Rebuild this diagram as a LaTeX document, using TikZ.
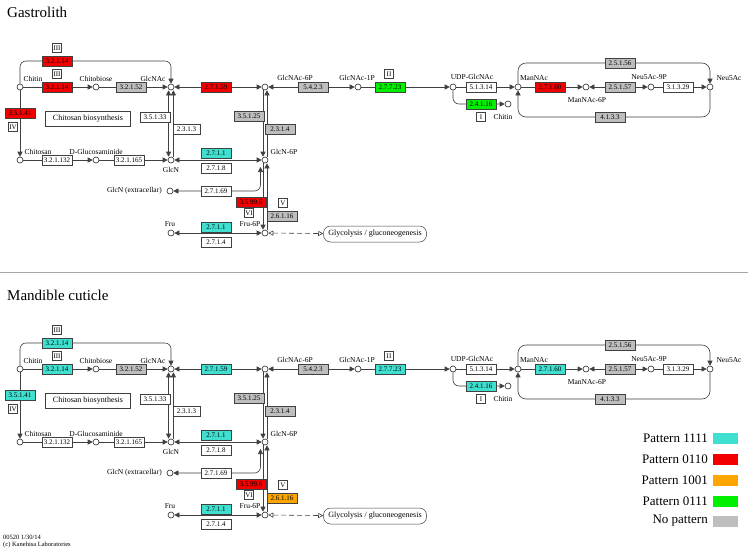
\documentclass[tikz,border=0pt]{standalone}
\usepackage{fontspec}
\setmainfont{Liberation Serif}
\usetikzlibrary{arrows.meta,calc}
\pgfdeclarelayer{bg}
\pgfdeclarelayer{paper}
\pgfsetlayers{paper,bg,main}
\definecolor{kred}{HTML}{F20000}
\definecolor{kcyan}{HTML}{40E0D0}
\definecolor{korange}{HTML}{FFA500}
\definecolor{kgreen}{HTML}{00F000}
\definecolor{kgray}{HTML}{BEBEBE}
\tikzset{
  cpd/.style={circle,draw=black!85,fill=white,minimum size=6pt,inner sep=0pt,line width=0.6pt},
  enz/.style={draw=black!75,line width=0.5pt,minimum width=30pt,minimum height=10pt,inner sep=0pt,font=\fontsize{7}{8}\selectfont},
  rom/.style={draw=black!75,fill=white,line width=0.5pt,minimum height=9pt,minimum width=9pt,inner sep=1pt,font=\fontsize{7}{8}\selectfont},
  lbl/.style={font=\fontsize{7.5}{8}\selectfont,inner sep=0pt},
  rx/.style={line width=0.6pt,draw=black!75},
  arr/.style={rx,-{Triangle[length=5pt,width=5pt]}},
  darr/.style={rx,{Triangle[length=5pt,width=5pt]}-{Triangle[length=5pt,width=5pt]}},
  oarr/.style={rx,dash pattern=on 5pt off 3pt,{Triangle[open,length=5pt,width=5pt]}-{Triangle[open,length=5pt,width=5pt]}},
  infobox/.style={draw=black!75,fill=white,line width=0.5pt,inner sep=0pt,font=\fontsize{8}{9}\selectfont},
  legtext/.style={anchor=east,inner sep=0pt,font=\fontsize{13}{14}\selectfont},
  legsw/.style={minimum width=25pt,minimum height=11pt,inner sep=0pt}
}
% #1 prefix, #2 yshift, #3 color A, #4 color 2.6.1.16, #5 color 2.7.7.23/2.4.1.16, #6 color 2.7.1.60
\newcommand\kpanel[6]{%
\begin{scope}[yshift=#2]
% compounds
\node[cpd] (#1chitin) at (20,87) {};
\node[cpd] (#1chitobiose) at (96,87) {};
\node[cpd] (#1glcnac) at (171,87) {};
\node[cpd] (#1chitosan) at (20,160) {};
\node[cpd] (#1dglc) at (96,160) {};
\node[cpd] (#1glcn) at (171,160) {};
\node[cpd] (#1glcnex) at (170,191) {};
\node[cpd] (#1fru) at (171,233) {};
\node[cpd] (#1glcnac6p) at (265,87) {};
\node[cpd] (#1glcn6p) at (265,160) {};
\node[cpd] (#1fru6p) at (265,233) {};
\node[cpd] (#1glcnac1p) at (358,87) {};
\node[cpd] (#1udp) at (453,87) {};
\node[cpd] (#1chitinb) at (508,104) {};
\node[cpd] (#1mannac) at (518,87) {};
\node[cpd] (#1mannac6p) at (586,87) {};
\node[cpd] (#1neu9p) at (651,87) {};
\node[cpd] (#1neu5ac) at (710,87) {};
% compound labels
\node[lbl] (#1l1) at (33,79) {Chitin};
\node[lbl] (#1l2) at (96,79) {Chitobiose};
\node[lbl] (#1l3) at (153,79) {GlcNAc};
\node[lbl] (#1l4) at (38,152) {Chitosan};
\node[lbl] (#1l5) at (96,152) {D-Glucosaminide};
\node[lbl] (#1l6) at (171,170) {GlcN};
\node[lbl,anchor=east] (#1l7) at (162,191) {GlcN (extracellar)};
\node[lbl] (#1l8) at (170,224) {Fru};
\node[lbl] (#1l9) at (295,78) {GlcNAc-6P};
\node[lbl] (#1l10) at (357,78) {GlcNAc-1P};
\node[lbl] (#1l11) at (284,152) {GlcN-6P};
\node[lbl] (#1l12) at (250,224) {Fru-6P};
\node[lbl] (#1l13) at (472,77) {UDP-GlcNAc};
\node[lbl] (#1l14) at (503,117) {Chitin};
\node[lbl] (#1l15) at (534,78) {ManNAc};
\node[lbl] (#1l16) at (587,100) {ManNAc-6P};
\node[lbl] (#1l17) at (649,77) {Neu5Ac-9P};
\node[lbl] (#1l18) at (729,78) {Neu5Ac};
% enzymes
\node[enz,fill=#3] (#1e1) at (57,61) {3.2.1.14};
\node[rom] (#1r1) at (57,48) {III};
\node[enz,fill=#3] (#1e2) at (57,87) {3.2.1.14};
\node[rom] (#1r2) at (57,74) {III};
\node[enz,fill=kgray] (#1e3) at (131,87) {3.2.1.52};
\node[enz,fill=#3] (#1e4) at (20,113) {3.5.1.41};
\node[rom] (#1r4) at (13,127) {IV};
\node[infobox,minimum width=85pt,minimum height=15pt] (#1cb) at (88,119) {Chitosan biosynthesis};
\node[enz,fill=white] (#1e5) at (155,117) {3.5.1.33};
\node[enz,fill=white,minimum width=27pt] (#1e6) at (186.5,129) {2.3.1.3};
\node[enz,fill=white] (#1e7) at (57,160) {3.2.1.132};
\node[enz,fill=white] (#1e8) at (129,160) {3.2.1.165};
\node[enz,fill=#3] (#1e9) at (216,87) {2.7.1.59};
\node[enz,fill=kcyan] (#1e10) at (216,153) {2.7.1.1};
\node[enz,fill=white] (#1e11) at (216,168) {2.7.1.8};
\node[enz,fill=white] (#1e12) at (216,191) {2.7.1.69};
\node[enz,fill=kred] (#1e13) at (251,202) {3.5.99.6};
\node[rom] (#1r13) at (249,213) {VI};
\node[enz,fill=#4] (#1e14) at (282,216) {2.6.1.16};
\node[rom] (#1r14) at (283,203) {V};
\node[enz,fill=kcyan] (#1e15) at (216,227) {2.7.1.1};
\node[enz,fill=white] (#1e16) at (216,242) {2.7.1.4};
\node[enz,fill=kgray] (#1e17) at (249,116) {3.5.1.25};
\node[enz,fill=kgray] (#1e18) at (280,129) {2.3.1.4};
\node[enz,fill=kgray] (#1e19) at (313,87) {5.4.2.3};
\node[enz,fill=#5] (#1e20) at (390,87) {2.7.7.23};
\node[rom] (#1r20) at (389,74) {II};
\node[enz,fill=white] (#1e21) at (481,87) {5.1.3.14};
\node[enz,fill=#5] (#1e22) at (481,104) {2.4.1.16};
\node[rom] (#1r22) at (481,117) {I};
\node[enz,fill=#6] (#1e23) at (550,87) {2.7.1.60};
\node[enz,fill=kgray] (#1e24) at (620,87) {2.5.1.57};
\node[enz,fill=white] (#1e25) at (678,87) {3.1.3.29};
\node[enz,fill=kgray] (#1e26) at (620,63) {2.5.1.56};
\node[enz,fill=kgray] (#1e27) at (610,117) {4.1.3.3};
\node[infobox,rounded corners=7pt,minimum width=103pt,minimum height=16pt] (#1glyco) at (375,234) {Glycolysis / gluconeogenesis};
% helper coordinates
\coordinate (#1c1) at ($(#1glcn6p)+(-4.5,7)$);
% connectors
\begin{pgfonlayer}{bg}
\draw[arr] (#1chitin) -- (#1chitobiose);
\draw[arr] (#1chitobiose) -- (#1glcnac);
\draw[arr,rounded corners=6pt] (#1chitin) -- (#1chitin |- #1e1) -- (#1glcnac |- #1e1) -- (#1glcnac);
\draw[arr] (#1chitin) -- (#1chitosan);
\draw[arr] (#1chitosan) -- (#1dglc);
\draw[arr] (#1dglc) -- (#1glcn);
\draw[darr] ([xshift=-2.4pt]#1glcnac.south) -- ([xshift=-2.4pt]#1glcn.north);
\draw[arr] ([xshift=2.4pt]#1glcn.north) -- ([xshift=2.4pt]#1glcnac.south);
\draw[darr] (#1glcnac) -- (#1glcnac6p);
\draw[darr] (#1glcnac6p) -- (#1glcnac1p);
\draw[arr] (#1glcnac1p) -- (#1udp);
\draw[arr] ([xshift=-2pt]#1glcnac6p.south) -- ([xshift=-2pt]#1glcn6p.north);
\draw[arr] ([xshift=2pt]#1glcn6p.north) -- ([xshift=2pt]#1glcnac6p.south);
\draw[darr] (#1glcn) -- (#1glcn6p);
\draw[darr,rounded corners=6pt] (#1glcnex) -- (#1c1 |- #1glcnex) -- (#1c1);
\draw[arr] ([xshift=-2pt]#1glcn6p.south) -- ([xshift=-2pt]#1fru6p.north);
\draw[arr] ([xshift=2pt]#1fru6p.north) -- ([xshift=2pt]#1glcn6p.south);
\draw[darr] (#1fru) -- (#1fru6p);
\draw[oarr] (#1fru6p) -- (#1glyco);
\draw[arr] (#1udp) -- (#1mannac);
\draw[arr,rounded corners=6pt] (#1udp) -- (#1udp |- #1chitinb) -- (#1chitinb);
\draw[arr] (#1mannac) -- (#1mannac6p);
\draw[darr] (#1mannac6p) -- (#1neu9p);
\draw[arr] (#1neu9p) -- (#1neu5ac);
\draw[arr,rounded corners=8pt] (#1mannac) -- (#1mannac |- #1e26) -- (#1neu5ac |- #1e26) -- (#1neu5ac);
\draw[arr,rounded corners=8pt] (#1neu5ac) -- (#1neu5ac |- #1e27) -- (#1mannac |- #1e27) -- (#1mannac);
\end{pgfonlayer}
\end{scope}}

\begin{document}
\begin{tikzpicture}[x=1pt,y=-1pt]
\begin{pgfonlayer}{paper}
\fill[white] (0,0) rectangle (748,550);
\end{pgfonlayer}
\useasboundingbox (0,0) rectangle (748,550);
\node[anchor=west,inner sep=0pt,font=\fontsize{15}{16}\selectfont] (t1) at (7,12) {Gastrolith};
\node[anchor=west,inner sep=0pt,font=\fontsize{15}{16}\selectfont] (t2) at (7,295) {Mandible cuticle};
\draw[black!35,line width=0.6pt] (0,272) -- (748,272);
\kpanel{a}{0pt}{kred}{kgray}{kgreen}{kred}
\kpanel{b}{-282pt}{kcyan}{korange}{kcyan}{kcyan}
% legend
\node[legtext] (lg1) at (708,438) {Pattern 1111};
\node[legsw,fill=kcyan] (ls1) at (725.5,438) {};
\node[legtext] (lg2) at (708,459) {Pattern 0110};
\node[legsw,fill=kred] (ls2) at (725.5,459) {};
\node[legtext] (lg3) at (708,480) {Pattern 1001};
\node[legsw,fill=korange] (ls3) at (725.5,480) {};
\node[legtext] (lg4) at (708,501) {Pattern 0111};
\node[legsw,fill=kgreen] (ls4) at (725.5,501) {};
\node[legtext] (lg5) at (708,521) {No pattern};
\node[legsw,fill=kgray] (ls5) at (725.5,521) {};
% footer
\node[anchor=west,inner sep=0pt,font=\fontsize{6.5}{7}\selectfont] (f1) at (3,537) {00520 1/30/14};
\node[anchor=west,inner sep=0pt,font=\fontsize{6.5}{7}\selectfont] (f2) at (3,544.5) {(c) Kanehisa Laboratories};
\end{tikzpicture}
\end{document}
